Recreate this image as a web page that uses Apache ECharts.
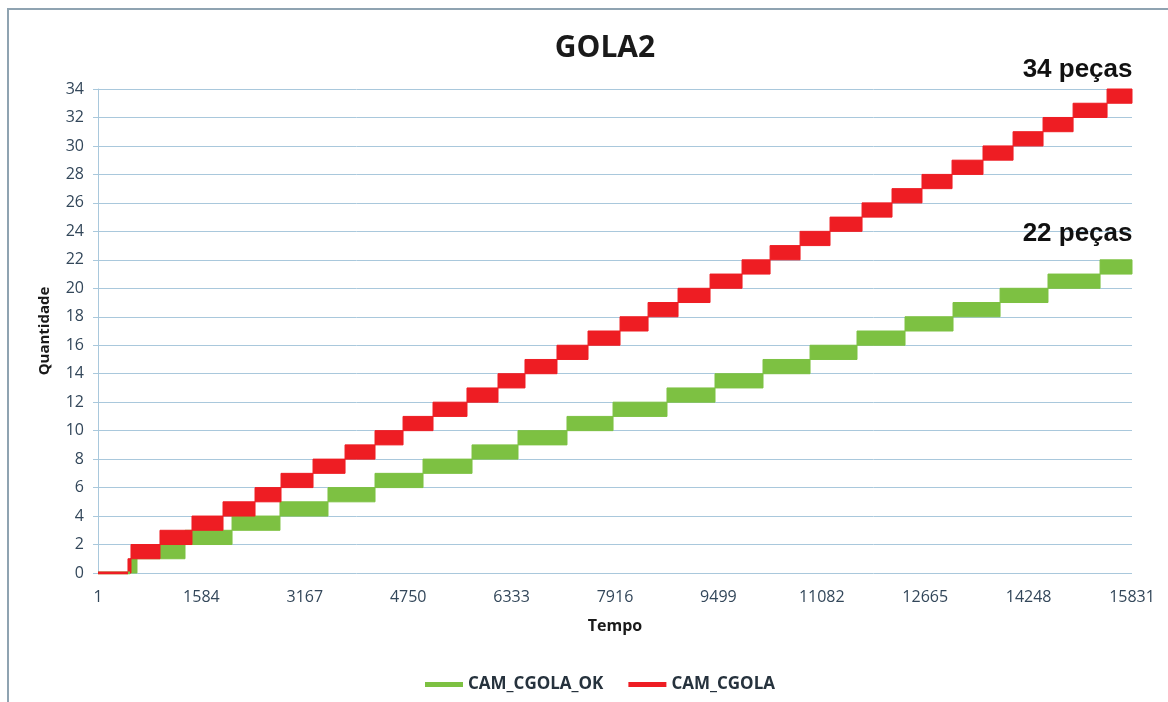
<!DOCTYPE html>
<html>
<head>
<meta charset="utf-8">
<title>GOLA2</title>
<script src="https://cdn.jsdelivr.net/npm/echarts@6/dist/echarts.min.js"></script>
<style>
  html, body { margin: 0; padding: 0; background: #fff; }
  #wrap { position: relative; width: 1168px; height: 702px; overflow: hidden; }
  #main { width: 1168px; height: 702px; }
  /* moldura do gráfico (só aparece em cima e à esquerda) */
  #frame {
    position: absolute; left: 7px; top: 8px; width: 1200px; height: 800px;
    border-left: 2px solid #8fa3b1; border-top: 2px solid #8fa3b1;
    pointer-events: none;
  }
</style>
</head>
<body>
<div id="wrap">
  <div id="main"></div>
  <div id="frame"></div>
</div>
<script>
// dados
const seriesNames = ['CAM_CGOLA_OK', 'CAM_CGOLA'];
const seriesColors = ['#7dc142', '#ee1d23'];
const tempoMin = 1;
const tempoMax = 15831;
const tempoStep = 1583;
const qtdMax = 34;
const qtdStep = 2;
// instante em que cada peça (faixa k -> k+1) começa a ser contada
const okStarts = [491, 598, 1333, 2053, 2787, 3522, 4242, 4977, 5727, 6431, 7181,
  7886, 8712, 9447, 10182, 10902, 11621, 12356, 13091, 13811, 14545, 15342];
const cgolaStarts = [460, 506, 950, 1440, 1915, 2405, 2803, 3293, 3783, 4242, 4671,
  5130, 5650, 6125, 6538, 7028, 7503, 7993, 8422, 8881, 9371, 9861, 10290, 10749,
  11208, 11698, 12157, 12616, 13076, 13550, 14010, 14469, 14929, 15449];

// faixas [inicio, fim, nivel], eixo x deslocado para começar em 0
function toBands(starts) {
  return starts.map(function (s, k) {
    const e = k + 1 < starts.length ? starts[k + 1] : tempoMax;
    return [s - tempoMin, e - tempoMin, k];
  });
}

function renderBand(params, api) {
  const lo = api.coord([api.value(0), api.value(2)]);
  const hi = api.coord([api.value(1), api.value(2) + 1]);
  const color = api.visual('color');
  return {
    type: 'rect',
    shape: { x: lo[0], y: hi[1], width: hi[0] - lo[0], height: lo[1] - hi[1] },
    style: { fill: color, stroke: color, lineWidth: 1 }
  };
}

function buildSeries(i, starts, labelOffset) {
  const name = seriesNames[i];
  const color = seriesColors[i];
  return [{
    name: name,
    type: 'line',
    color: color,
    symbol: 'none',
    silent: true,
    lineStyle: { width: 3, color: color },
    data: [[0, 0], [starts[0] - tempoMin, 0]],
    markPoint: {
      symbol: 'circle',
      symbolSize: 1,
      silent: true,
      itemStyle: { color: 'transparent' },
      label: {
        show: true,
        position: [1, labelOffset],
        align: 'right',
        verticalAlign: 'bottom',
        formatter: starts.length + ' peças',
        fontFamily: 'Liberation Sans',
        fontWeight: 'bold',
        fontSize: 26,
        color: '#111'
      },
      data: [{ coord: [tempoMax - tempoMin, starts.length] }]
    }
  }, {
    name: name,
    type: 'custom',
    color: color,
    renderItem: renderBand,
    encode: { x: [0, 1], y: [2] },
    data: toBands(starts)
  }];
}

const myChart = echarts.init(document.getElementById('main'));
const option = {
  animation: false,
  backgroundColor: '#fff',
  title: {
    text: 'GOLA2',
    left: 600,
    textAlign: 'center',
    top: 28,
    textStyle: { fontFamily: 'Open Sans', fontWeight: 'bold', fontSize: 30, color: '#1a1a1a' }
  },
  legend: {
    left: 420,
    top: 671,
    itemWidth: 38,
    itemHeight: 5,
    itemGap: 25,
    textStyle: { fontFamily: 'Open Sans', fontWeight: 'bold', fontSize: 17, color: '#26323d' },
    data: [
      { name: seriesNames[0], icon: 'rect' },
      { name: seriesNames[1], icon: 'rect' }
    ]
  },
  grid: { left: 98, right: 36, top: 89, bottom: 129 },
  xAxis: {
    type: 'value',
    min: 0,
    max: tempoMax - tempoMin,
    interval: tempoStep,
    name: 'Tempo',
    nameLocation: 'middle',
    nameGap: 45,
    nameTextStyle: { fontFamily: 'Open Sans', fontWeight: 'bold', fontSize: 16, color: '#1a1a1a' },
    axisLine: { show: false },
    axisTick: { show: false },
    splitLine: { show: false },
    axisLabel: {
      margin: 16,
      fontFamily: 'Open Sans',
      fontSize: 16,
      color: '#33475a',
      formatter: function (v) { return String(v + tempoMin); }
    }
  },
  yAxis: {
    type: 'value',
    min: 0,
    max: qtdMax,
    interval: qtdStep,
    name: 'Quantidade',
    nameLocation: 'middle',
    nameGap: 46,
    nameTextStyle: { fontFamily: 'Open Sans', fontWeight: 'bold', fontSize: 15, color: '#1a1a1a' },
    axisLine: { show: true, lineStyle: { color: '#a9c8dc', width: 1 } },
    axisTick: { show: true, length: 5, lineStyle: { color: '#a9c8dc' } },
    splitLine: { lineStyle: { color: '#a9c8dc', width: 1 } },
    axisLabel: { margin: 14, fontFamily: 'Open Sans', fontSize: 16, color: '#33475a' }
  },
  series: buildSeries(0, okStarts, -12).concat(buildSeries(1, cgolaStarts, -6))
};
myChart.setOption(option);
window.addEventListener('resize', function () {
  myChart.resize();
});
</script>
</body>
</html>
